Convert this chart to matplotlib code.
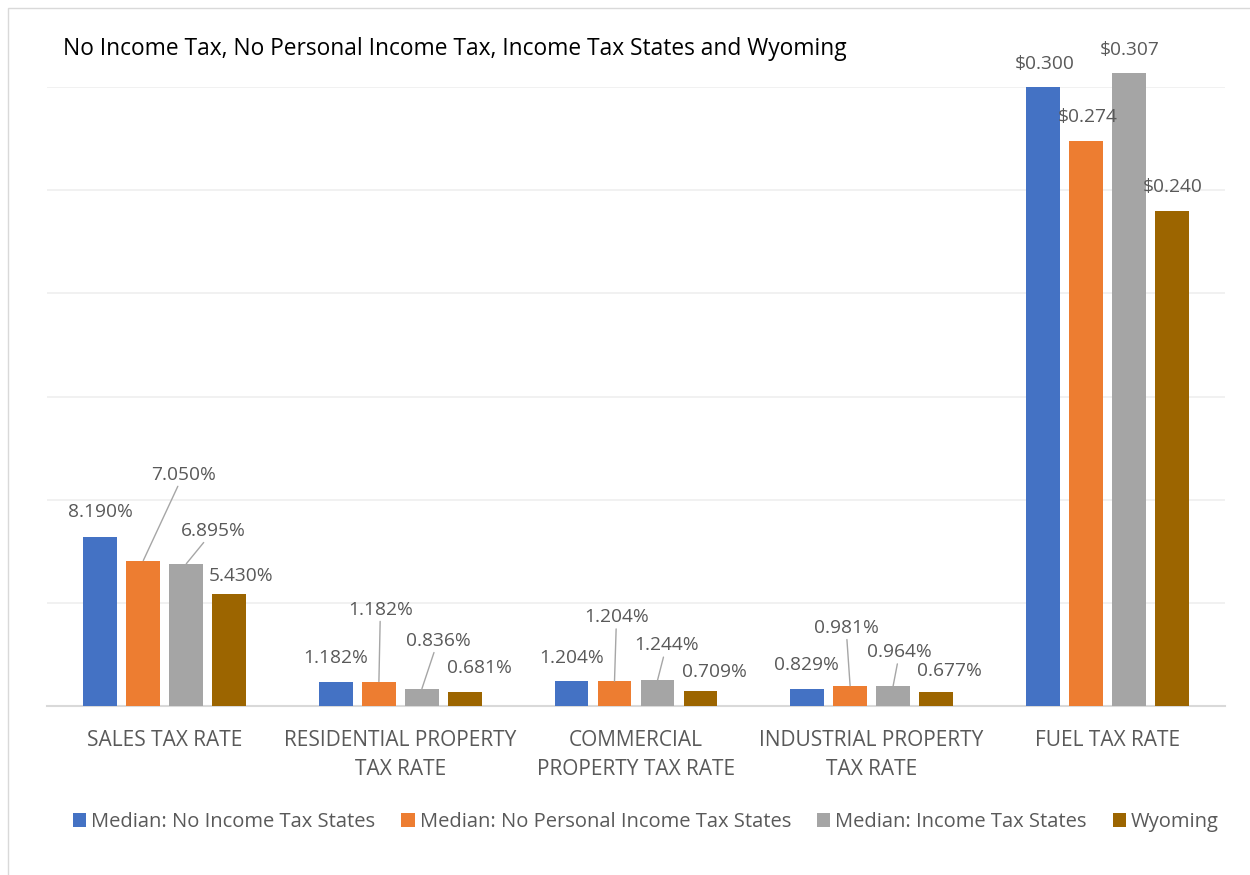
import matplotlib.pyplot as plt
import numpy as np
from matplotlib.patches import Rectangle

plt.rcParams['font.family'] = ['Open Sans', 'DejaVu Sans']

title = "No Income Tax, No Personal Income Tax, Income Tax States and Wyoming"
categories = ["SALES TAX RATE", "RESIDENTIAL PROPERTY\nTAX RATE",
              "COMMERCIAL\nPROPERTY TAX RATE", "INDUSTRIAL PROPERTY\nTAX RATE",
              "FUEL TAX RATE"]
series_names = ["Median: No Income Tax States",
                "Median: No Personal Income Tax States",
                "Median: Income Tax States", "Wyoming"]

# rates as fractions (fuel tax in dollars per gallon)
no_income_tax = [0.0819, 0.01182, 0.01204, 0.00829, 0.300]
no_personal_income_tax = [0.0705, 0.01182, 0.01204, 0.00981, 0.274]
income_tax = [0.06895, 0.00836, 0.01244, 0.00964, 0.307]
wyoming = [0.0543, 0.00681, 0.00709, 0.00677, 0.240]
is_dollar = [False, False, False, False, True]

colors = ['#4472C4', '#ED7D31', '#A5A5A5', '#9C6500']

# label offsets from bar top, in pixels (dx, dy up) - mimics excel placement
label_offsets = [
    [(0, 25), (0, 24), (0, 23), (-1, 24), (2, 23)],
    [(40, 86), (1.5, 72), (2, 64), (-4, 58), (1.5, 24)],
    [(27, 33), (16, 48), (9, 35), (6.5, 34), (1, 23)],
    [(11.5, 18), (14.5, 24), (13.5, 19), (13.5, 21), (0.5, 24)],
]
leader = [
    [False] * 5,
    [True, True, True, True, False],
    [True, True, True, True, False],
    [False] * 5,
]

txt_col = '#595959'

fig = plt.figure(figsize=(12.5, 8.75), dpi=100)
ax = fig.add_axes([47 / 1250, 1 - 706 / 875, 1178 / 1250, (706 - 87) / 875])

x = np.arange(len(categories))
width = 0.144
step = 0.1825
all_series = [no_income_tax, no_personal_income_tax, income_tax, wyoming]

handles = []
for i, (vals, name, c) in enumerate(zip(all_series, series_names, colors)):
    xs = x + (i - 1.5) * step
    bars = ax.bar(xs, vals, width, color=c, label=name, clip_on=False, zorder=3)
    handles.append(bars)
    for j, (xx, v) in enumerate(zip(xs, vals)):
        lab = f"${v:.3f}" if is_dollar[j] else f"{v * 100:.3f}%"
        dx, dy = label_offsets[i][j]
        kw = {}
        if leader[i][j]:
            kw['arrowprops'] = dict(arrowstyle='-', color='#A6A6A6', lw=1,
                                    shrinkA=0, shrinkB=0)
        ax.annotate(lab, (xx, v), xytext=(dx, dy), textcoords='offset pixels',
                    ha='center', va='center', fontsize=13.8, color=txt_col,
                    annotation_clip=False, zorder=5, **kw)

ax.set_xlim(-0.5, len(categories) - 0.5)
ax.set_ylim(0, 0.30)
ax.set_yticks(np.arange(0, 0.301, 0.05))
ax.set_yticklabels([])
ax.tick_params(axis='y', length=0)
ax.yaxis.grid(True, color='#EFEFEF', lw=1.2, zorder=0)
ax.set_axisbelow(True)
ax.set_xticks(x)
ax.set_xticklabels(categories, fontsize=15, color=txt_col, linespacing=1.5)
ax.tick_params(axis='x', length=0, pad=17)
for s in ['top', 'right', 'left']:
    ax.spines[s].set_visible(False)
ax.spines['bottom'].set_color('#D9D9D9')
ax.spines['bottom'].set_linewidth(1.5)

fig.text(63 / 1250, 1 - 49 / 875, title, fontsize=16.4, va='center', ha='left',
         color='black')

leg = fig.legend(handles=handles, loc='center', bbox_to_anchor=(646 / 1250, 1 - 822 / 875),
                 ncol=4, frameon=False, fontsize=14.5, handlelength=0.65,
                 handleheight=0.65, handletextpad=0.25, columnspacing=1.3)
for t in leg.get_texts():
    t.set_color(txt_col)

fig.patches.append(Rectangle((8 / 1250, -0.01), 1.0, 1 - 8 / 875 + 0.01,
                             transform=fig.transFigure, fill=False,
                             edgecolor='#D9D9D9', lw=1))

fig.savefig('out.png', dpi=100)
